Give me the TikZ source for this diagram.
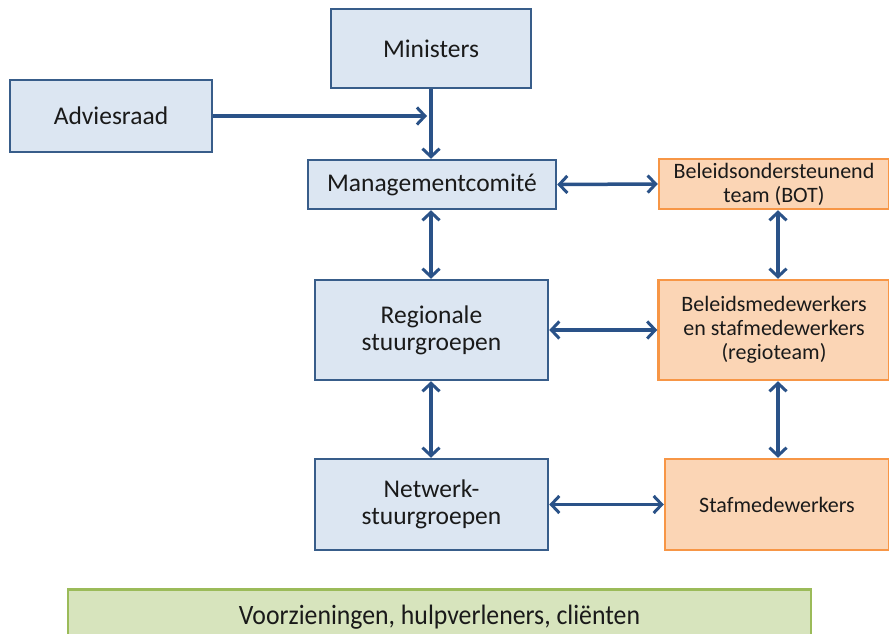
\documentclass[tikz,border=0pt]{standalone}
\usepackage{fontspec}
\setmainfont{Carlito}
\usetikzlibrary{arrows.meta}
\definecolor{bfill}{HTML}{DCE6F2}
\definecolor{bdraw}{HTML}{385D8A}
\definecolor{ofill}{HTML}{FBD5B5}
\definecolor{odraw}{HTML}{F79646}
\definecolor{gfill}{HTML}{D7E4BD}
\definecolor{gdraw}{HTML}{9BBB59}
\definecolor{arr}{HTML}{2A5288}
\definecolor{txt}{HTML}{1A1A1A}
\begin{document}
\begin{tikzpicture}[x=1pt,y=-1pt,
  bluebox/.style={draw=bdraw,fill=bfill,line width=2.5pt,text=txt,align=center,font=\fontsize{25.5}{27}\selectfont},
  orangebox/.style={draw=odraw,fill=ofill,line width=2.5pt,text=txt,align=center,font=\fontsize{22}{24}\selectfont},
  greenbox/.style={draw=gdraw,fill=gfill,line width=2.5pt,text=txt,align=center,font=\fontsize{28}{30}\selectfont},
  conn/.style={draw=arr,line width=3.5pt,arrows={-Straight Barb[length=8pt,width=17pt,line width=3pt]}},
  biconn/.style={draw=arr,line width=3.5pt,arrows={Straight Barb[length=8pt,width=17pt,line width=3pt]-Straight Barb[length=8pt,width=17pt,line width=3pt]}}]
\useasboundingbox (0,0) rectangle (889,634);
% boxes
\node[bluebox,minimum width=200pt,minimum height=79pt] (min) at (431,48.5) {Ministers};
\node[bluebox,minimum width=202pt,minimum height=72pt] (adv) at (111,116) {Adviesraad};
\node[bluebox,minimum width=248pt,minimum height=49pt] (man) at (432,184.5) {Managementcomité};
\node[orangebox,minimum width=230pt,minimum height=50pt] (bot) at (774,184) {Beleidsondersteunend\\team (BOT)};
\node[bluebox,minimum width=233pt,minimum height=100pt] (reg) at (431.5,330) {Regionale\\stuurgroepen};
\node[orangebox,minimum width=231pt,minimum height=100pt] (rt) at (774,330) {Beleidsmedewerkers\\en stafmedewerkers\\(regioteam)};
\node[bluebox,minimum width=233pt,minimum height=91pt] (net) at (431.5,504.5) {Netwerk-\\stuurgroepen};
\node[orangebox,minimum width=224pt,minimum height=91pt] (staf) at (777,504.5) {Stafmedewerkers};
\node[greenbox,minimum width=743pt,minimum height=56pt,anchor=north] (voor) at (439.5,588) {\addfontfeature{FakeStretch=0.92}Voorzieningen, hulpverleners, cliënten};
% connectors
\coordinate (advend) at (427,116);
\path[conn] (adv.east) -- (advend);
\path[conn] (min.south) -- (man.north -| min.south);
\path[biconn] (man.east) -- (bot.west);
\path[biconn] (man.south -| min.south) -- (reg.north -| min.south);
\path[biconn] (bot.south -| 778,0) -- (rt.north -| 778,0);
\path[biconn] (reg.east) -- (rt.west);
\path[biconn] (reg.south -| min.south) -- (net.north -| min.south);
\path[biconn] (rt.south -| 778,0) -- (staf.north -| 778,0);
\path[biconn] (net.east) -- (staf.west);
\end{tikzpicture}
\end{document}
